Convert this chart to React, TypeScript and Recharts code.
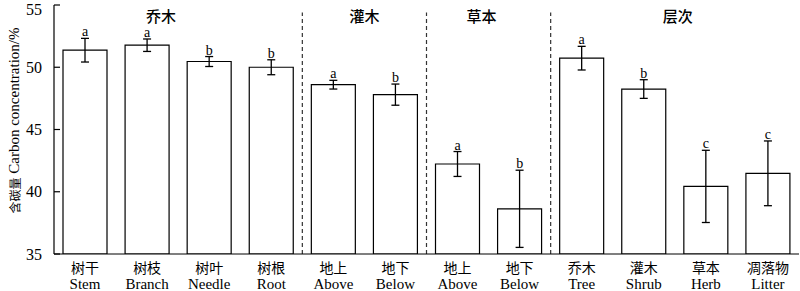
import React from 'react';
import {
  ComposedChart, Bar, ErrorBar, XAxis, YAxis, Line, LabelList,
  ReferenceLine, ReferenceDot,
} from 'recharts';

const cnLabels = ['树干', '树枝', '树叶', '树根', '地上', '地下', '地上', '地下', '乔木', '灌木', '草本', '凋落物'];
const enLabels = ['Stem', 'Branch', 'Needle', 'Root', 'Above', 'Below', 'Above', 'Below', 'Tree', 'Shrub', 'Herb', 'Litter'];
const values = [51.37, 51.77, 50.46, 50.0, 48.6, 47.8, 42.23, 38.63, 50.73, 48.25, 40.43, 41.48];
const errors = [0.95, 0.5, 0.4, 0.6, 0.35, 0.85, 1.0, 3.1, 0.95, 0.75, 2.9, 2.6];
const letters = ['a', 'a', 'b', 'b', 'a', 'b', 'a', 'b', 'a', 'b', 'c', 'c'];
const yTicks = [35, 40, 45, 50, 55];
const groupLabels = ['乔木', '灌木', '草本', '层次'];
const groupCat = ['1', '5', '7', '10'];
const groupShift = [14, -31, -38, -28];
const separators = ['4', '6', '8'];

const data = values.map((v, i) => ({
  idx: String(i),
  value: v,
  err: errors[i],
  top: v + errors[i],
  letter: letters[i],
}));

const SERIF = "'Liberation Serif', 'Times New Roman', 'Noto Sans CJK SC', serif";
const CJK = "'Noto Sans CJK SC', sans-serif";

const XTick = (props: any) => {
  const { x, y, payload } = props;
  const i = Number(payload.value);
  return (
    <g>
      <text x={x} y={y + 19} textAnchor="middle" fontFamily={CJK} fontSize={14} fill="#000">{cnLabels[i]}</text>
      <text x={x} y={y + 35} textAnchor="middle" fontFamily={SERIF} fontSize={15} fill="#000">{enLabels[i]}</text>
    </g>
  );
};

const YLabel = (props: any) => {
  const vb = props.viewBox || { x: 0, y: 5, width: 54, height: 249 };
  const cx = vb.x + 14;
  const cy = vb.y + vb.height / 2 - 9;
  return (
    <text x={cx} y={cy} transform={`rotate(-90 ${cx} ${cy})`} textAnchor="middle" dominantBaseline="central" fontSize={15} fill="#000" fontFamily={SERIF}>
      <tspan fontFamily={CJK} fontSize={12}>含碳量</tspan>
      <tspan> Carbon concentration/%</tspan>
    </text>
  );
};

export default function App() {
  return (
    <div style={{ position: 'absolute', left: 0, top: 0, width: 800, height: 291, background: '#fff' }}>
      <ComposedChart width={800} height={291} data={data} margin={{ top: 5, right: 1, bottom: 0, left: 0 }} barCategoryGap="14.5%">
        <XAxis dataKey="idx" type="category" tick={<XTick />} tickLine={false} tickSize={0} tickMargin={0} height={37} axisLine={{ stroke: '#000', strokeWidth: 1.2 }} interval={0} />
        <YAxis
          domain={[35, 55]}
          ticks={yTicks}
          width={54}
          tickSize={-6}
          tickMargin={18}
          tickLine={{ stroke: '#000', strokeWidth: 1.2 }}
          axisLine={{ stroke: '#000', strokeWidth: 1.2 }}
          tick={{ fill: '#000', fontSize: 16, fontFamily: SERIF }}
          label={<YLabel />}
          allowDataOverflow
        />
        {separators.map((s) => (
          <ReferenceLine key={s} position="start" segment={[{ x: s, y: 35 }, { x: s, y: 54.4 }]} stroke="#333" strokeWidth={1.2} strokeDasharray="4 3" />
        ))}
        {groupLabels.map((g, i) => (
          <ReferenceDot key={g} x={groupCat[i]} y={54.05} r={0} stroke="none" fill="none"
            label={{ value: g, position: 'center', dx: groupShift[i], fontSize: 15, fontWeight: 500, fill: '#000', fontFamily: CJK }} />
        ))}
        <Bar dataKey="value" fill="#fff" stroke="#000" strokeWidth={1.2} isAnimationActive={false}>
          <ErrorBar dataKey="err" width={4} stroke="#000" strokeWidth={1.3} direction="y" />
        </Bar>
        <Line dataKey="top" stroke="none" dot={false} activeDot={false} isAnimationActive={false} legendType="none">
          <LabelList dataKey="letter" position="top" offset={2} fontSize={14} fill="#000" fontFamily={SERIF} />
        </Line>
      </ComposedChart>
    </div>
  );
}
